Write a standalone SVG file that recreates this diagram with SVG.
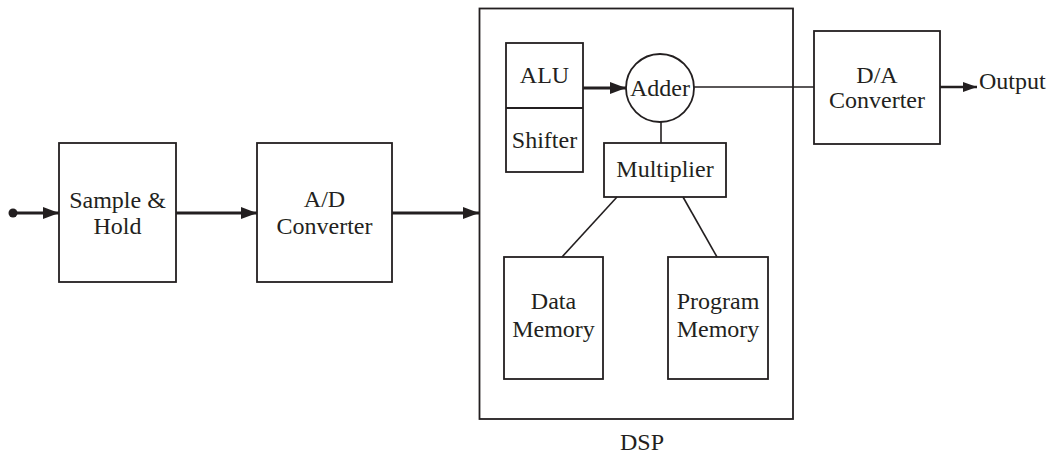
<svg xmlns="http://www.w3.org/2000/svg" width="1050" height="454" viewBox="0 0 1050 454">
<defs>
<marker id="ah" markerWidth="16" markerHeight="12" refX="16" refY="6" orient="auto" markerUnits="userSpaceOnUse">
<path d="M0,0 L16,6 L0,12 Z" fill="#231f20"/>
</marker>
<marker id="ahs" markerWidth="14" markerHeight="10" refX="14" refY="5" orient="auto" markerUnits="userSpaceOnUse">
<path d="M0,0 L14,5 L0,10 Z" fill="#231f20"/>
</marker>
</defs>
<style>
.box{fill:#fff;stroke:#231f20;stroke-width:1.8}
.t{font-family:"Liberation Serif","Times New Roman",serif;font-size:24px;fill:#231f20;text-anchor:middle}
.thick{stroke:#231f20;stroke-width:3;fill:none}
.thin{stroke:#231f20;stroke-width:1.6;fill:none}
</style>
<rect width="1050" height="454" fill="#fff"/>
<g id="dsp">
<rect class="box" x="479.5" y="8.5" width="313.5" height="410.5"/>
<text class="t" x="642" y="450">DSP</text>
</g>
<g id="sample-hold">
<rect class="box" x="59" y="143" width="117" height="139"/>
<text class="t" x="117.5" y="208">Sample &amp;</text>
<text class="t" x="117.5" y="234">Hold</text>
</g>
<g id="ad-converter">
<rect class="box" x="257" y="143" width="135" height="139"/>
<text class="t" x="324.5" y="207">A/D</text>
<text class="t" x="324.5" y="234">Converter</text>
</g>
<g id="alu-shifter">
<rect class="box" x="506" y="43" width="77" height="129"/>
<line class="thin" x1="506" y1="108" x2="583" y2="108" style="stroke-width:1.8"/>
<text class="t" x="544.5" y="83">ALU</text>
<text class="t" x="544.5" y="148">Shifter</text>
</g>
<g id="adder">
<circle class="box" cx="660" cy="88" r="34"/>
<text class="t" x="660" y="96">Adder</text>
</g>
<g id="multiplier">
<rect class="box" x="604" y="143" width="122" height="54"/>
<text class="t" x="665" y="177">Multiplier</text>
</g>
<g id="data-memory">
<rect class="box" x="504" y="257" width="99" height="122"/>
<text class="t" x="553.5" y="309">Data</text>
<text class="t" x="553.5" y="337">Memory</text>
</g>
<g id="program-memory">
<rect class="box" x="668" y="257" width="100" height="122"/>
<text class="t" x="718" y="309">Program</text>
<text class="t" x="718" y="337">Memory</text>
</g>
<g id="da-converter">
<rect class="box" x="814" y="31" width="126" height="113"/>
<text class="t" x="877" y="83">D/A</text>
<text class="t" x="877" y="108">Converter</text>
</g>
<g id="output-label">
<text class="t" x="979" y="89" style="text-anchor:start">Output</text>
</g>
<g id="connectors">
<circle cx="13" cy="213" r="4.5" fill="#231f20"/>
<line class="thick" x1="13" y1="213" x2="59" y2="213" marker-end="url(#ah)"/>
<line class="thick" x1="176" y1="213" x2="257" y2="213" marker-end="url(#ah)"/>
<line class="thick" x1="392" y1="213" x2="479" y2="213" marker-end="url(#ah)"/>
<line class="thick" x1="583" y1="88" x2="626" y2="88" marker-end="url(#ah)"/>
<line class="thin" x1="694" y1="87" x2="814" y2="87"/>
<line class="thick" x1="940" y1="87" x2="977" y2="87" style="stroke-width:2.4" marker-end="url(#ahs)"/>
<line class="thin" x1="661" y1="122" x2="661" y2="143"/>
<line class="thin" x1="617" y1="197" x2="562" y2="257"/>
<line class="thin" x1="683" y1="197" x2="717" y2="257"/>
</g>
</svg>
